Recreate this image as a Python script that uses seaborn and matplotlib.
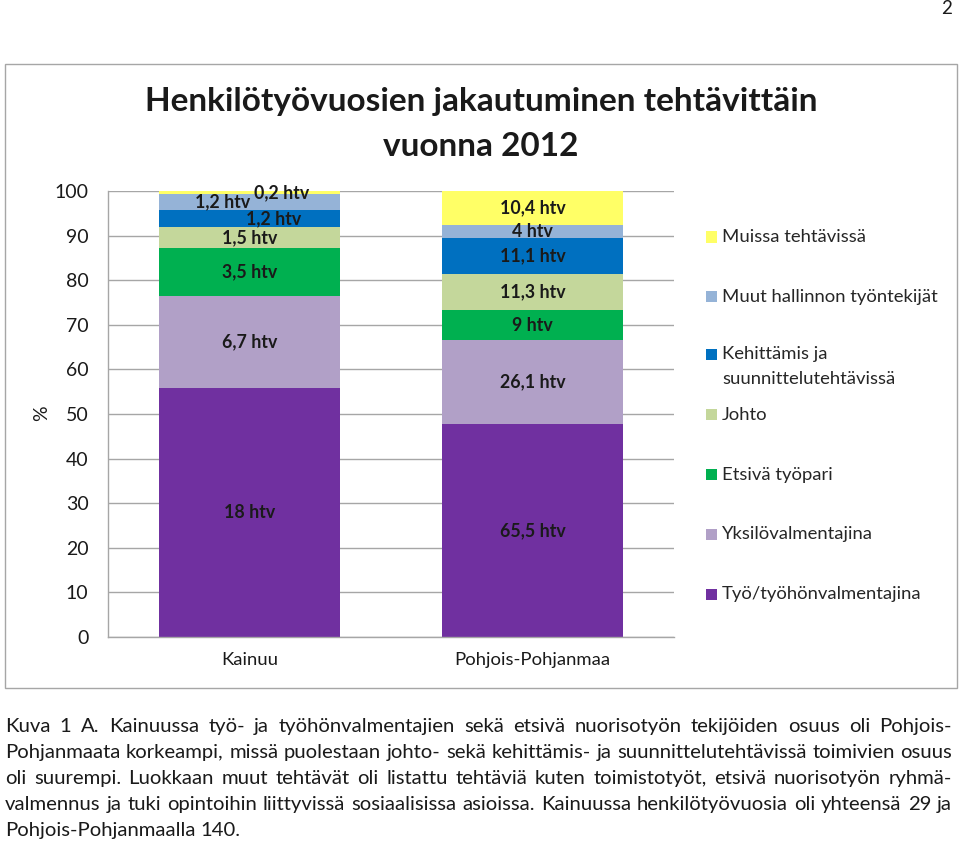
import matplotlib
matplotlib.use("Agg")
import matplotlib.pyplot as plt
import seaborn as sns
import pandas as pd
from matplotlib.patches import Rectangle

# ---------------- data ----------------
regions = ["Kainuu", "Pohjois-Pohjanmaa"]
series = ["Työ/työhönvalmentajina", "Yksilövalmentajina", "Etsivä työpari", "Johto",
          "Kehittämis ja\nsuunnittelutehtävissä", "Muut hallinnon työntekijät",
          "Muissa tehtävissä"]
kainuu_htv = [18, 6.7, 3.5, 1.5, 1.2, 1.2, 0.2]
pohjois_htv = [65.5, 26.1, 9, 11.3, 11.1, 4, 10.4]
colors = ["#7030A0", "#B1A0C7", "#00B050", "#C4D79B", "#0070C0", "#95B3D7", "#FFFF66"]
yticks = [0, 10, 20, 30, 40, 50, 60, 70, 80, 90, 100]
title_lines = ["Henkilötyövuosien jakautuminen tehtävittäin", "vuonna 2012"]
caption_lines = [
    "Kuva 1 A. Kainuussa työ- ja työhönvalmentajien sekä etsivä nuorisotyön tekijöiden osuus oli Pohjois-",
    "Pohjanmaata korkeampi, missä puolestaan johto- sekä kehittämis- ja suunnittelutehtävissä toimivien osuus",
    "oli suurempi. Luokkaan muut tehtävät oli listattu tehtäviä kuten toimistotyöt, etsivä nuorisotyön ryhmä-",
    "valmennus ja tuki opintoihin liittyvissä sosiaalisissa asioissa. Kainuussa henkilötyövuosia oli yhteensä 29 ja",
    "Pohjois-Pohjanmaalla 140.",
]
page_number = "2"

# ---------------- table ----------------
rows = []
for reg, vals in zip(regions, [kainuu_htv, pohjois_htv]):
    tot = sum(vals)
    cum = 0.0
    for s, v in zip(series, vals):
        pct = v / tot * 100
        rows.append(dict(region=reg, series=s, htv=v, pct=pct,
                         cum=cum + pct, center=cum + pct / 2))
        cum += pct
df = pd.DataFrame(rows)

# ---------------- figure ----------------
sns.set_style("white")
FONT = ["Lato", "DejaVu Sans"]
plt.rcParams["font.family"] = FONT
W, H = 960, 842
fig = plt.figure(figsize=(W / 100, H / 100), dpi=100)
TXT = "#1a1a1a"

def fx(px):
    return px / W

def fy(py):
    return 1 - py / H

ax = fig.add_axes([fx(108), fy(637), fx(674) - fx(108), fy(191) - fy(637)])

# stacked bars: draw cumulative tops from the top series down
for s, c in list(zip(series, colors))[::-1]:
    sub = df[df.series == s]
    sns.barplot(data=sub, x="region", y="cum", order=regions, color=c,
                saturation=1, width=0.64, errorbar=None, ax=ax,
                edgecolor="none", linewidth=0)

ax.set_xlim(-0.5, 1.5)
ax.set_ylim(0, 100)
ax.set_yticks(yticks)
ax.set_yticklabels([str(t) for t in yticks])
ax.set_xlabel("")
ax.set_ylabel("")
ax.set_axisbelow(True)
ax.yaxis.grid(True, color="#A6A6A6", lw=1)
ax.xaxis.grid(False)
for sp in ["top", "right"]:
    ax.spines[sp].set_visible(False)
for sp in ["left", "bottom"]:
    ax.spines[sp].set_color("#A6A6A6")
    ax.spines[sp].set_linewidth(1)
ax.tick_params(axis="y", length=0, pad=14, labelsize=14, labelcolor=TXT)
ax.tick_params(axis="x", length=0, pad=11, labelsize=13.3, labelcolor=TXT)

# data labels
offsets = {("Kainuu", series[4]): 0.085, ("Kainuu", series[5]): -0.095,
           ("Kainuu", series[6]): 0.113}
for _, r in df.iterrows():
    i = regions.index(r.region)
    dx = offsets.get((r.region, r.series), 0.0)
    lab = f"{r.htv:g}".replace(".", ",") + " htv"
    ax.text(i + dx, r.center, lab, ha="center", va="center",
            fontsize=12.8, fontweight="bold", color=TXT)

# y label
fig.text(fx(42), fy(413), "%", rotation=90, ha="center", va="center",
         fontsize=14, color=TXT)

# title
fig.text(fx(481), fy(102), title_lines[0], ha="center", va="center",
         fontsize=24, fontweight="bold", color=TXT)
fig.text(fx(481), fy(146), title_lines[1], ha="center", va="center",
         fontsize=24, fontweight="bold", color=TXT)

# legend (manual, in figure space)
leg_y = [594, 534, 475, 415, 354, 297, 237]
for s, c, yy in zip(series, colors, leg_y):
    fig.patches.append(Rectangle((fx(706), fy(yy + 5.5)), 11 / W, 11 / H,
                                 transform=fig.transFigure, facecolor=c,
                                 edgecolor="none"))
    if "\n" in s:
        l1, l2 = s.split("\n")
        fig.text(fx(722), fy(yy), l1, ha="left", va="center",
                 fontsize=13.3, color="#262626")
        fig.text(fx(722), fy(yy + 25), l2, ha="left", va="center",
                 fontsize=13.3, color="#262626")
    else:
        fig.text(fx(722), fy(yy), s, ha="left", va="center",
                 fontsize=13.3, color="#262626")

# chart border
fig.patches.append(Rectangle((fx(5), fy(688)), (957 - 5) / W, (688 - 64) / H,
                             transform=fig.transFigure, fill=False,
                             edgecolor="#A6A6A6", lw=1))

# page number
fig.text(fx(952), fy(9), page_number, ha="right", va="center", fontsize=13.5,
         color=TXT)

# caption (justified)
fig.canvas.draw()
rend = fig.canvas.get_renderer()
x0, x1 = 5, 952
probe = fig.text(0, 0, caption_lines[1], fontsize=13.0)
natural = probe.get_window_extent(rend).width
probe.remove()
cap_fs = min(14.6, 13.0 * (x1 - x0 - 4) / natural)
base_y = [732, 758, 784, 810, 836]
sp = fig.text(0, 0, "a a", fontsize=cap_fs)
sp2 = fig.text(0, 0, "aa", fontsize=cap_fs)
space_w = sp.get_window_extent(rend).width - sp2.get_window_extent(rend).width
sp.remove(); sp2.remove()
for k, (line, by) in enumerate(zip(caption_lines, base_y)):
    words = line.split(" ")
    texts = [fig.text(0, fy(by), w, ha="left", va="baseline", fontsize=cap_fs,
                      color=TXT) for w in words]
    widths = [t.get_window_extent(rend).width for t in texts]
    if k < len(caption_lines) - 1:
        gap = (x1 - x0 - sum(widths)) / (len(words) - 1)
    else:
        gap = space_w
    x = x0
    for t, w in zip(texts, widths):
        t.set_x(fx(x))
        x += w + gap

fig.savefig("out.png", dpi=100)
